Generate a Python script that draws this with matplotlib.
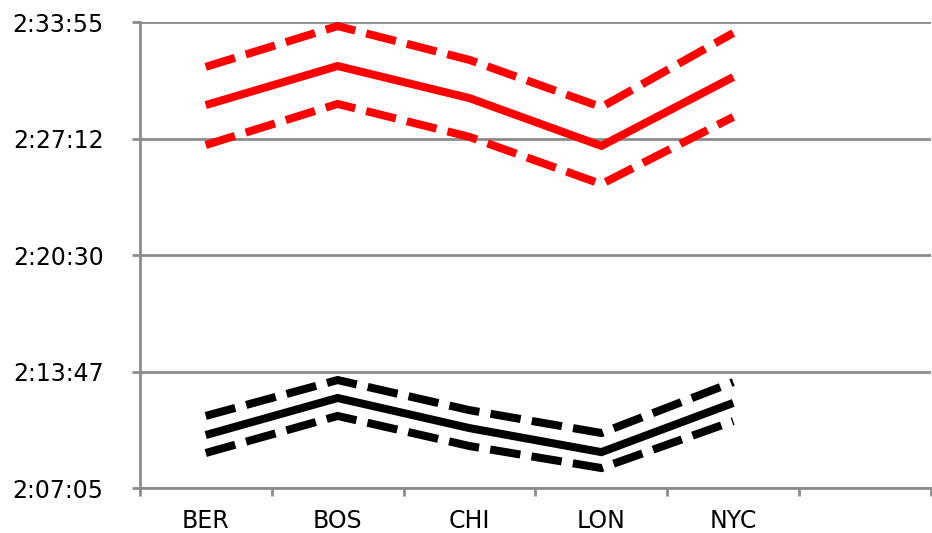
import matplotlib
matplotlib.use('Agg')
import matplotlib.pyplot as plt

# data (seconds since midnight)
cities = ['BER', 'BOS', 'CHI', 'LON', 'NYC']
red_mid = [8948, 9083, 8972, 8807, 9045]
red_high = [9080, 9221, 9104, 8941, 9197]
red_low = [8810, 8952, 8838, 8675, 8907]
black_mid = [7808, 7936, 7832, 7749, 7919]
black_high = [7874, 7998, 7894, 7815, 7991]
black_low = [7746, 7874, 7770, 7694, 7856]

ytick_vals = [7625, 8027.5, 8430, 8832.5, 9235]
ytick_labels = ['2:07:05', '2:13:47', '2:20:30', '2:27:12', '2:33:55']

fig = plt.figure(figsize=(9.32, 5.33), dpi=100)
ax = fig.add_axes([0.150, 0.0844, 0.849, 0.8743])

x = list(range(len(cities)))
lw = 5.8
dash = (3.8, 1.4)

ax.plot(x, red_mid, color='#ff0000', lw=lw, solid_capstyle='butt', solid_joinstyle='miter')
for ys in (red_high, red_low):
    ax.plot(x, ys, color='#ff0000', lw=lw, dashes=dash, dash_capstyle='butt', dash_joinstyle='miter')
ax.plot(x, black_mid, color='black', lw=lw, solid_capstyle='butt', solid_joinstyle='miter')
for ys in (black_high, black_low):
    ax.plot(x, ys, color='black', lw=lw, dashes=dash, dash_capstyle='butt', dash_joinstyle='miter')

ax.set_xlim(-0.5, 5.5)
ax.set_ylim(ytick_vals[0], ytick_vals[-1])

ax.set_yticks(ytick_vals)
ax.set_yticklabels(ytick_labels)
ax.set_xticks(x)
ax.set_xticklabels(cities)
ax.set_xticks([i - 0.5 for i in range(7)], minor=True)

ax.tick_params(axis='x', which='major', length=0, pad=15, labelsize=17)
ax.tick_params(axis='x', which='minor', length=6, width=2, color='#8c8c8c')
ax.tick_params(axis='y', length=6, width=2, color='#8c8c8c', labelsize=17, pad=20)

ax.yaxis.grid(True, color='#8c8c8c', linewidth=2)
ax.set_axisbelow(True)
for side in ('top', 'right'):
    ax.spines[side].set_visible(False)
for side in ('left', 'bottom'):
    ax.spines[side].set_color('#8c8c8c')
    ax.spines[side].set_linewidth(2)

fig.savefig('out.png', dpi=100)
